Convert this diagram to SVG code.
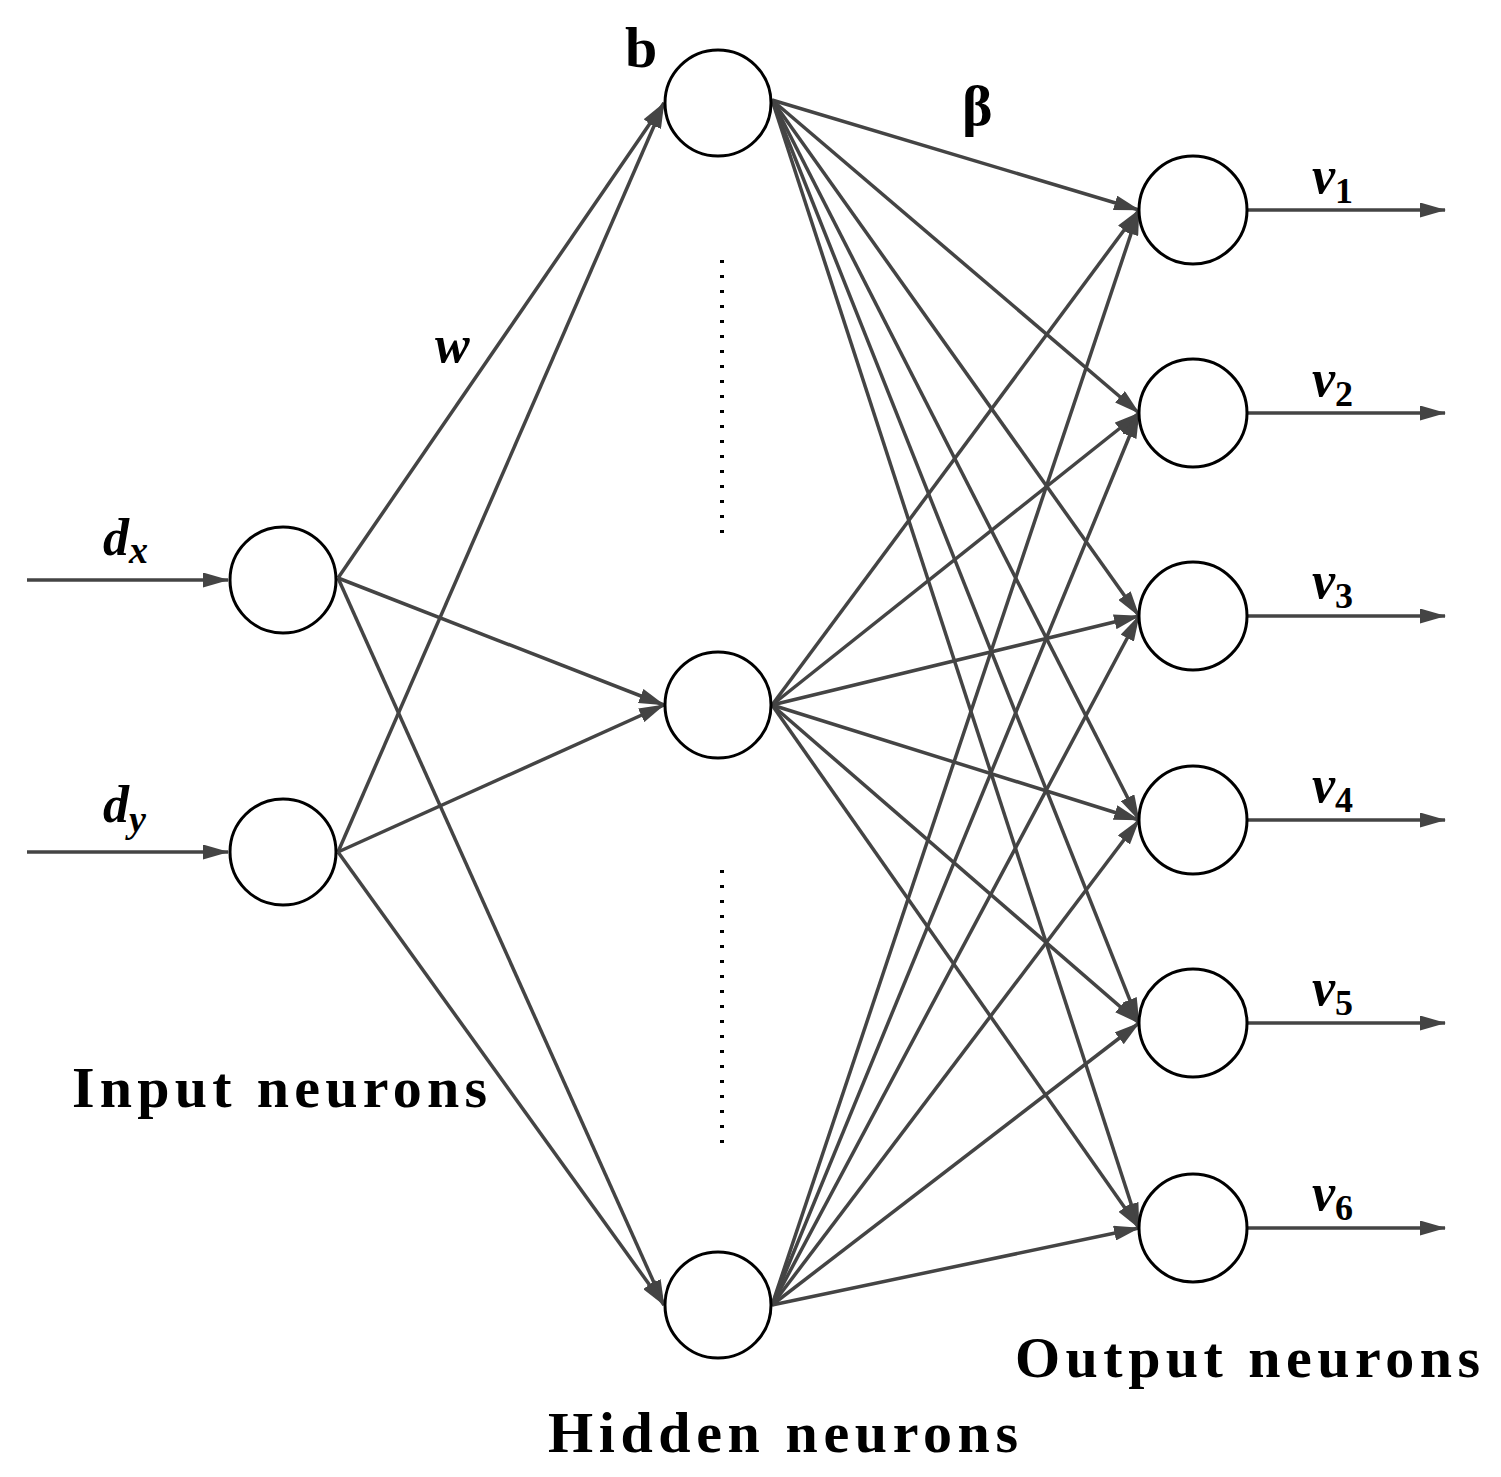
<svg xmlns="http://www.w3.org/2000/svg" width="1501" height="1477" viewBox="0 0 1501 1477">
<defs>
<marker id="ahb" markerWidth="26" markerHeight="15" refX="25" refY="7.5" orient="auto" markerUnits="userSpaceOnUse" viewBox="0 0 26 15"><path d="M0,0 L26,7.5 L0,15 z" fill="#444"/></marker>
</defs>
<style>
.n{fill:#fff;stroke:#000;stroke-width:3}
.e{stroke:#444;stroke-width:3.5;fill:none}
.t{font-family:"Liberation Serif",serif;font-weight:bold;font-size:58px;fill:#000}
.m{font-family:"Liberation Serif",serif;font-weight:bold;font-style:italic;font-size:52px;fill:#000}
.s{font-family:"Liberation Serif",serif;font-weight:bold;font-style:normal;font-size:36px;fill:#000}
.si{font-family:"Liberation Serif",serif;font-weight:bold;font-style:italic;font-size:38px;fill:#000}
</style>
<rect width="1501" height="1477" fill="#fff"/>
<g id="connectors">
<g class="e" marker-end="url(#ahb)">
<line x1="27" y1="580" x2="228" y2="580"/>
<line x1="27" y1="852" x2="228" y2="852"/>
<line x1="1247" y1="210" x2="1445" y2="210"/>
<line x1="1247" y1="413" x2="1445" y2="413"/>
<line x1="1247" y1="616" x2="1445" y2="616"/>
<line x1="1247" y1="820" x2="1445" y2="820"/>
<line x1="1247" y1="1023" x2="1445" y2="1023"/>
<line x1="1247" y1="1228" x2="1445" y2="1228"/>
<line x1="338" y1="578" x2="664" y2="103"/>
<line x1="338" y1="578" x2="664" y2="705"/>
<line x1="338" y1="578" x2="664" y2="1305"/>
<line x1="338" y1="852" x2="664" y2="103"/>
<line x1="338" y1="852" x2="664" y2="705"/>
<line x1="338" y1="852" x2="664" y2="1305"/>
<line x1="772" y1="100" x2="1139" y2="210"/>
<line x1="772" y1="100" x2="1139" y2="413"/>
<line x1="772" y1="100" x2="1139" y2="616"/>
<line x1="772" y1="100" x2="1139" y2="820"/>
<line x1="772" y1="100" x2="1139" y2="1023"/>
<line x1="772" y1="100" x2="1139" y2="1228"/>
<line x1="772" y1="705" x2="1139" y2="210"/>
<line x1="772" y1="705" x2="1139" y2="413"/>
<line x1="772" y1="705" x2="1139" y2="616"/>
<line x1="772" y1="705" x2="1139" y2="820"/>
<line x1="772" y1="705" x2="1139" y2="1023"/>
<line x1="772" y1="705" x2="1139" y2="1228"/>
<line x1="772" y1="1305" x2="1139" y2="210"/>
<line x1="772" y1="1305" x2="1139" y2="413"/>
<line x1="772" y1="1305" x2="1139" y2="616"/>
<line x1="772" y1="1305" x2="1139" y2="820"/>
<line x1="772" y1="1305" x2="1139" y2="1023"/>
<line x1="772" y1="1305" x2="1139" y2="1228"/>
</g>
<line x1="722" y1="260" x2="722" y2="540" stroke="#000" stroke-width="4" stroke-dasharray="3,12"/>
<line x1="722" y1="870" x2="722" y2="1150" stroke="#000" stroke-width="4" stroke-dasharray="3,12"/>
</g>
<g id="in1"><circle class="n" cx="283" cy="580" r="53"/></g>
<g id="in2"><circle class="n" cx="283" cy="852" r="53"/></g>
<g id="h1"><circle class="n" cx="718" cy="103" r="53"/></g>
<g id="h2"><circle class="n" cx="718" cy="705" r="53"/></g>
<g id="h3"><circle class="n" cx="718" cy="1305" r="53"/></g>
<g id="o1"><circle class="n" cx="1193" cy="210" r="54"/></g>
<g id="o2"><circle class="n" cx="1193" cy="413" r="54"/></g>
<g id="o3"><circle class="n" cx="1193" cy="616" r="54"/></g>
<g id="o4"><circle class="n" cx="1193" cy="820" r="54"/></g>
<g id="o5"><circle class="n" cx="1193" cy="1023" r="54"/></g>
<g id="o6"><circle class="n" cx="1193" cy="1228" r="54"/></g>
<g id="labels">
<text class="t" x="625" y="67">b</text>
<text class="t" x="962" y="125">β</text>
<text class="m" x="435" y="362">w</text>
<text class="m" x="103" y="555">d<tspan class="si" dy="8">x</tspan></text>
<text class="m" x="103" y="822">d<tspan class="si" dy="10">y</tspan></text>
<text class="m" x="1312" y="193">v<tspan class="s" dy="10">1</tspan></text>
<text class="m" x="1312" y="396">v<tspan class="s" dy="10">2</tspan></text>
<text class="m" x="1312" y="598">v<tspan class="s" dy="10">3</tspan></text>
<text class="m" x="1312" y="802">v<tspan class="s" dy="10">4</tspan></text>
<text class="m" x="1312" y="1005">v<tspan class="s" dy="10">5</tspan></text>
<text class="m" x="1312" y="1210">v<tspan class="s" dy="10">6</tspan></text>
<text class="t" x="72" y="1107" textLength="415" lengthAdjust="spacing">Input neurons</text>
<text class="t" x="548" y="1452" textLength="470" lengthAdjust="spacing">Hidden neurons</text>
<text class="t" x="1015" y="1377" textLength="465" lengthAdjust="spacing">Output neurons</text>
</g>
</svg>
